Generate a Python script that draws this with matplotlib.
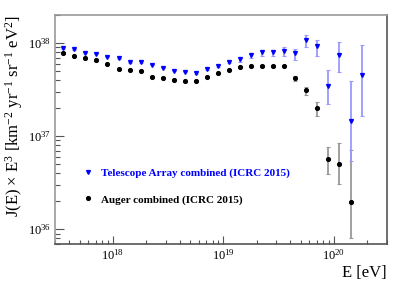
import numpy as np
import matplotlib
matplotlib.use('Agg')
import matplotlib.pyplot as plt
from matplotlib.lines import Line2D
from matplotlib.ticker import LogLocator, NullFormatter, LogFormatterMathtext

plt.rcParams['font.family'] = 'Liberation Serif'
plt.rcParams['mathtext.fontset'] = 'custom'
plt.rcParams['mathtext.rm'] = 'Liberation Serif'
plt.rcParams['mathtext.it'] = 'Liberation Serif:italic'
plt.rcParams['mathtext.bf'] = 'Liberation Serif:bold'

# log10(E / eV) bin centres
ta_logE = [17.55, 17.65, 17.75, 17.85, 17.95, 18.05, 18.15, 18.25, 18.35, 18.45,
           18.55, 18.65, 18.75, 18.85, 18.95, 19.05, 19.15, 19.25, 19.35, 19.45,
           19.55, 19.65, 19.75, 19.85, 19.95, 20.05, 20.15, 20.25]
# E^3 J(E) in units of 1e37 km^-2 yr^-1 sr^-1 eV^2
ta_flux = [8.84, 8.62, 7.93, 7.67, 7.18, 6.90, 6.25, 6.30, 5.85, 5.47,
           5.08, 4.95, 4.76, 5.29, 5.70, 6.34, 6.78, 7.48, 8.00, 8.00,
           8.26, 7.80, 10.77, 9.35, 3.48, 7.48, 1.47, 4.53]
ta_hi = [8.95, 8.73, 8.03, 7.77, 7.28, 7.00, 6.34, 6.40, 5.94, 5.56,
         5.17, 5.05, 4.86, 5.40, 5.85, 6.50, 7.06, 7.80, 8.47, 8.47,
         9.06, 8.68, 12.27, 10.85, 5.16, 10.25, 3.94, 9.50]
ta_lo = [8.73, 8.51, 7.83, 7.57, 7.08, 6.80, 6.16, 6.20, 5.76, 5.38,
         4.99, 4.85, 4.66, 5.18, 5.55, 6.18, 6.34, 6.90, 7.36, 7.36,
         7.29, 6.56, 9.18, 7.36, 2.22, 4.88, 0.542, 1.65]

auger_logE = [17.55, 17.65, 17.75, 17.85, 17.95, 18.05, 18.15, 18.25, 18.35, 18.45,
              18.55, 18.65, 18.75, 18.85, 18.95, 19.05, 19.15, 19.25, 19.35, 19.45,
              19.55, 19.65, 19.75, 19.85, 19.95, 20.05, 20.15]
auger_flux = [7.93, 7.36, 7.00, 6.56, 5.99, 5.25, 5.20, 5.08, 4.34, 4.27,
              4.03, 3.90, 3.93, 4.34, 4.76, 5.20, 5.60, 5.70, 5.70, 5.70,
              5.74, 4.21, 3.15, 2.00, 0.574, 0.503, 0.198]
auger_hi = [8.00, 7.43, 7.07, 6.62, 6.05, 5.30, 5.25, 5.13, 4.39, 4.32,
            4.08, 3.95, 3.98, 4.40, 4.82, 5.27, 5.68, 5.79, 5.80, 5.81,
            5.86, 4.45, 3.41, 2.36, 0.762, 0.841, 0.713]
auger_lo = [7.86, 7.29, 6.93, 6.50, 5.93, 5.20, 5.15, 5.03, 4.29, 4.22,
            3.98, 3.85, 3.88, 4.28, 4.70, 5.13, 5.52, 5.61, 5.60, 5.59,
            5.62, 3.94, 2.78, 1.65, 0.390, 0.305, 0.080]

scale = 1e37


def prep(logE, flux, lo, hi):
    x = 10 ** np.array(logE)
    y = np.array(flux) * scale
    err = [y - np.array(lo) * scale, np.array(hi) * scale - y]
    return x, y, err


fig = plt.figure(figsize=(4.15, 2.87), dpi=100)
ax = fig.add_axes([0.1325, 0.150, 0.80, 0.798])

ax.set_xscale('log')
ax.set_yscale('log')

x, y, err = prep(auger_logE, auger_flux, auger_lo, auger_hi)
ax.errorbar(x, y, yerr=err, fmt='o', color='black', ms=2.7, ecolor='#999999',
            elinewidth=1.3, capsize=1.2, capthick=0.8, zorder=3)
x, y, err = prep(ta_logE, ta_flux, ta_lo, ta_hi)
ax.errorbar(x, y, yerr=err, fmt='v', color='#0000ff', ms=2.8, ecolor='#9a9aff',
            elinewidth=1.3, capsize=1.2, capthick=0.8, zorder=4)

ax.set_xlim(10 ** 17.475, 10 ** 20.48)
ax.set_ylim(10 ** 35.842, 10 ** 38.304)

ax.xaxis.set_major_locator(LogLocator(base=10, numticks=10))
ax.xaxis.set_minor_locator(LogLocator(base=10, subs=np.arange(2, 10), numticks=20))
ax.xaxis.set_minor_formatter(NullFormatter())
ax.yaxis.set_major_locator(LogLocator(base=10, numticks=10))
ax.yaxis.set_minor_locator(LogLocator(base=10, subs=np.arange(2, 10), numticks=20))
ax.yaxis.set_minor_formatter(NullFormatter())
ax.xaxis.set_major_formatter(LogFormatterMathtext())
ax.yaxis.set_major_formatter(LogFormatterMathtext())

ax.tick_params(which='both', direction='in', top=False, right=False, labelsize=9, pad=3)
ax.tick_params(axis='y', which='major', length=6.5, width=0.8, color='#555555')
ax.tick_params(axis='y', which='minor', length=3.5, width=0.8, color='#555555')
ax.tick_params(axis='x', which='major', length=5.5, width=0.8, color='#555555')
ax.tick_params(axis='x', which='minor', length=3, width=0.8, color='#555555')

for side in ['top', 'left']:
    ax.spines[side].set_color('#999999')
for side in ['bottom', 'right']:
    ax.spines[side].set_color('#555555')
for s in ax.spines.values():
    s.set_linewidth(1.2)

ax.set_xlabel('E [eV]', fontsize=12, loc='right', labelpad=2)
ax.set_ylabel(r'J(E) $\times$ E$^{3}$ [km$^{-2}$ yr$^{-1}$ sr$^{-1}$ eV$^{2}$]',
              fontsize=12, loc='top', labelpad=2)

handles = [Line2D([], [], marker='v', ls='none', color='#0000ff', ms=2.8),
           Line2D([], [], marker='o', ls='none', color='black', ms=2.7)]
labels = ['Telescope Array combined (ICRC 2015)', 'Auger combined (ICRC 2015)']
ax.legend(handles, labels, loc='upper left', bbox_to_anchor=(0.083, 0.332),
          frameon=False, prop={'weight': 'bold', 'size': 8}, labelcolor=['#0000ff', 'black'],
          handlelength=1.0, handletextpad=0.65, labelspacing=1.5,
          borderpad=0, borderaxespad=0)

fig.savefig('out.png', dpi=100)
